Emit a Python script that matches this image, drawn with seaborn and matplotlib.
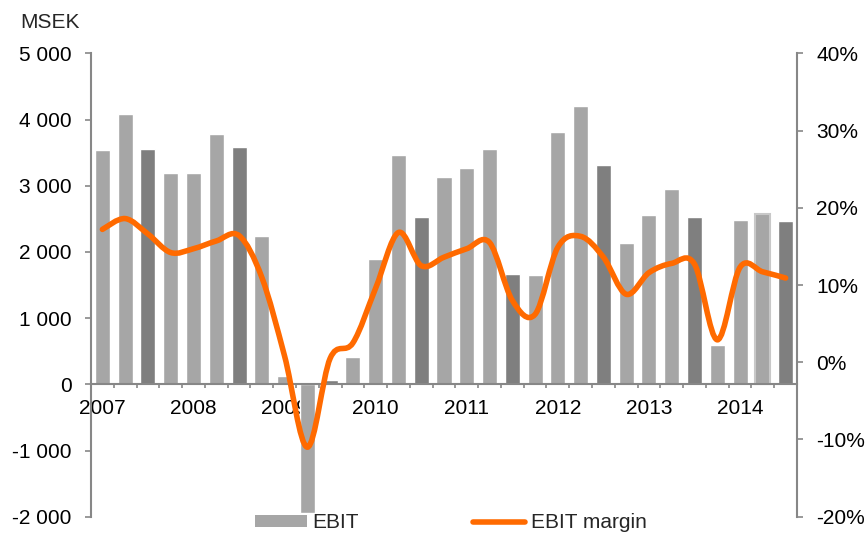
import numpy as np
import pandas as pd
import matplotlib
matplotlib.use('Agg')
import matplotlib.pyplot as plt
from matplotlib.path import Path
from matplotlib.patches import PathPatch, Patch
from matplotlib.lines import Line2D
from matplotlib.ticker import FuncFormatter
import seaborn as sns

# quarterly data, 2007 Q1 - 2014 Q3
years = ['2007', '2008', '2009', '2010', '2011', '2012', '2013', '2014']
quarters = [f'{y} Q{q}' for y in years for q in range(1, 5)][:31]

ebit = [3540, 4085, 3555, 3190,
        3190, 3780, 3590, 2240,
        125, -1950, 65, 415,
        1890, 3465, 2525, 3130,
        3265, 3555, 1665, 1650,
        3810, 4205, 3315, 2135,
        2555, 2950, 2525, 595,
        2480, 2570, 2465]

ebit_margin = [17.2, 18.6, 16.6, 14.2,
               14.7, 15.7, 16.4, 11.0,
               0.8, -11.0, 0.5, 2.5,
               9.6, 16.8, 12.5, 13.6,
               14.7, 15.5, 8.0, 6.2,
               14.9, 16.3, 13.6, 8.8,
               11.6, 12.8, 12.7, 2.9,
               12.3, 11.7, 10.9]

LIGHT = '#A6A6A6'
DARK = '#7F7F7F'
ORANGE = '#FF6A00'
GRAY = '#878787'

sns.set_style('ticks')
plt.rcParams['font.family'] = ['Liberation Sans', 'DejaVu Sans']
plt.rcParams['font.size'] = 15

fig = plt.figure(figsize=(8.68, 5.34), dpi=100)
ax = fig.add_axes([91 / 868, 1 - 516.7 / 534, 706 / 868, 463.4 / 534])

df = pd.DataFrame({'quarter': quarters, 'ebit': ebit})
palette = {q: (DARK if q.endswith('Q3') else LIGHT) for q in quarters}
sns.barplot(data=df, x='quarter', y='ebit', hue='quarter', palette=palette,
            legend=False, width=0.66, saturation=1, ax=ax)

# the last-but-one bar has a pale outline
for p in ax.patches:
    if abs(p.get_x() + p.get_width() / 2 - 29) < 0.1:
        p.set_edgecolor('#C8C8C8')
        p.set_linewidth(1.5)

ax.set_xlim(-0.5, 30.5)
ax.set_ylim(-2000, 5000)
ax.set_xlabel('')
ax.set_ylabel('')

for s in ['top', 'right']:
    ax.spines[s].set_visible(False)
ax.spines['left'].set_color(GRAY)
ax.spines['left'].set_linewidth(1.5)
ax.spines['bottom'].set_color(GRAY)
ax.spines['bottom'].set_linewidth(1.5)
ax.spines['bottom'].set_position(('data', 0))

ax.set_yticks(range(-2000, 5001, 1000))
ax.yaxis.set_major_formatter(FuncFormatter(lambda v, _: f'{v:,.0f}'.replace(',', ' ')))
ax.tick_params(axis='y', direction='out', length=4.3, width=1.2, color=GRAY,
               pad=9.5, labelcolor='black')

ax.set_xticks(range(0, 31, 4), labels=years)
ax.set_xticks(np.arange(-0.5, 31, 1), minor=True)
ax.tick_params(axis='x', which='major', length=0, pad=10.5, labelcolor='black')
ax.tick_params(axis='x', which='minor', length=3, width=1.2, color=GRAY, direction='out')

# EBIT margin on the right axis, drawn as a smoothed curve through the points
ax2 = ax.twinx()
for s in ['top', 'left', 'bottom']:
    ax2.spines[s].set_visible(False)
ax2.spines['right'].set_color(GRAY)
ax2.spines['right'].set_linewidth(1.5)

xs = np.arange(len(ebit_margin))
ys = np.array(ebit_margin)
n = len(xs)
verts = [(xs[0], ys[0])]
codes = [Path.MOVETO]
for i in range(n - 1):
    a = i - 1 if i > 0 else i
    d = i + 2 if i + 2 < n else i + 1
    c1 = (xs[i] + (xs[i + 1] - xs[a]) / 6, ys[i] + (ys[i + 1] - ys[a]) / 6)
    c2 = (xs[i + 1] - (xs[d] - xs[i]) / 6, ys[i + 1] - (ys[d] - ys[i]) / 6)
    verts += [c1, c2, (xs[i + 1], ys[i + 1])]
    codes += [Path.CURVE4] * 3
ax2.add_patch(PathPatch(Path(verts, codes), facecolor='none', edgecolor=ORANGE,
                        lw=4, capstyle='round', joinstyle='round'))

ax2.set_xlim(-0.5, 30.5)
ax2.set_ylim(-20, 40)
ax2.set_yticks(range(-20, 41, 10))
ax2.yaxis.set_major_formatter(FuncFormatter(lambda v, _: f'{v:.0f}%'))
ax2.tick_params(axis='y', direction='out', length=4.3, width=1.2, color=GRAY,
                pad=9.5, labelcolor='black')

fig.text(20 / 868, 1 - 22 / 534, 'MSEK', va='center', ha='left', fontsize=15)

handles = [Patch(facecolor=LIGHT, edgecolor='none'),
           Line2D([], [], color=ORANGE, lw=4, solid_capstyle='round')]
fig.legend(handles, ['EBIT', 'EBIT margin'], loc='center left',
           bbox_to_anchor=(255 / 868, 1 - 523 / 534), ncol=2, frameon=False,
           borderpad=0, borderaxespad=0, handlelength=2.5, handleheight=0.55,
           handletextpad=0.25, columnspacing=5.5, fontsize=15)

fig.savefig('out.png', dpi=100)
